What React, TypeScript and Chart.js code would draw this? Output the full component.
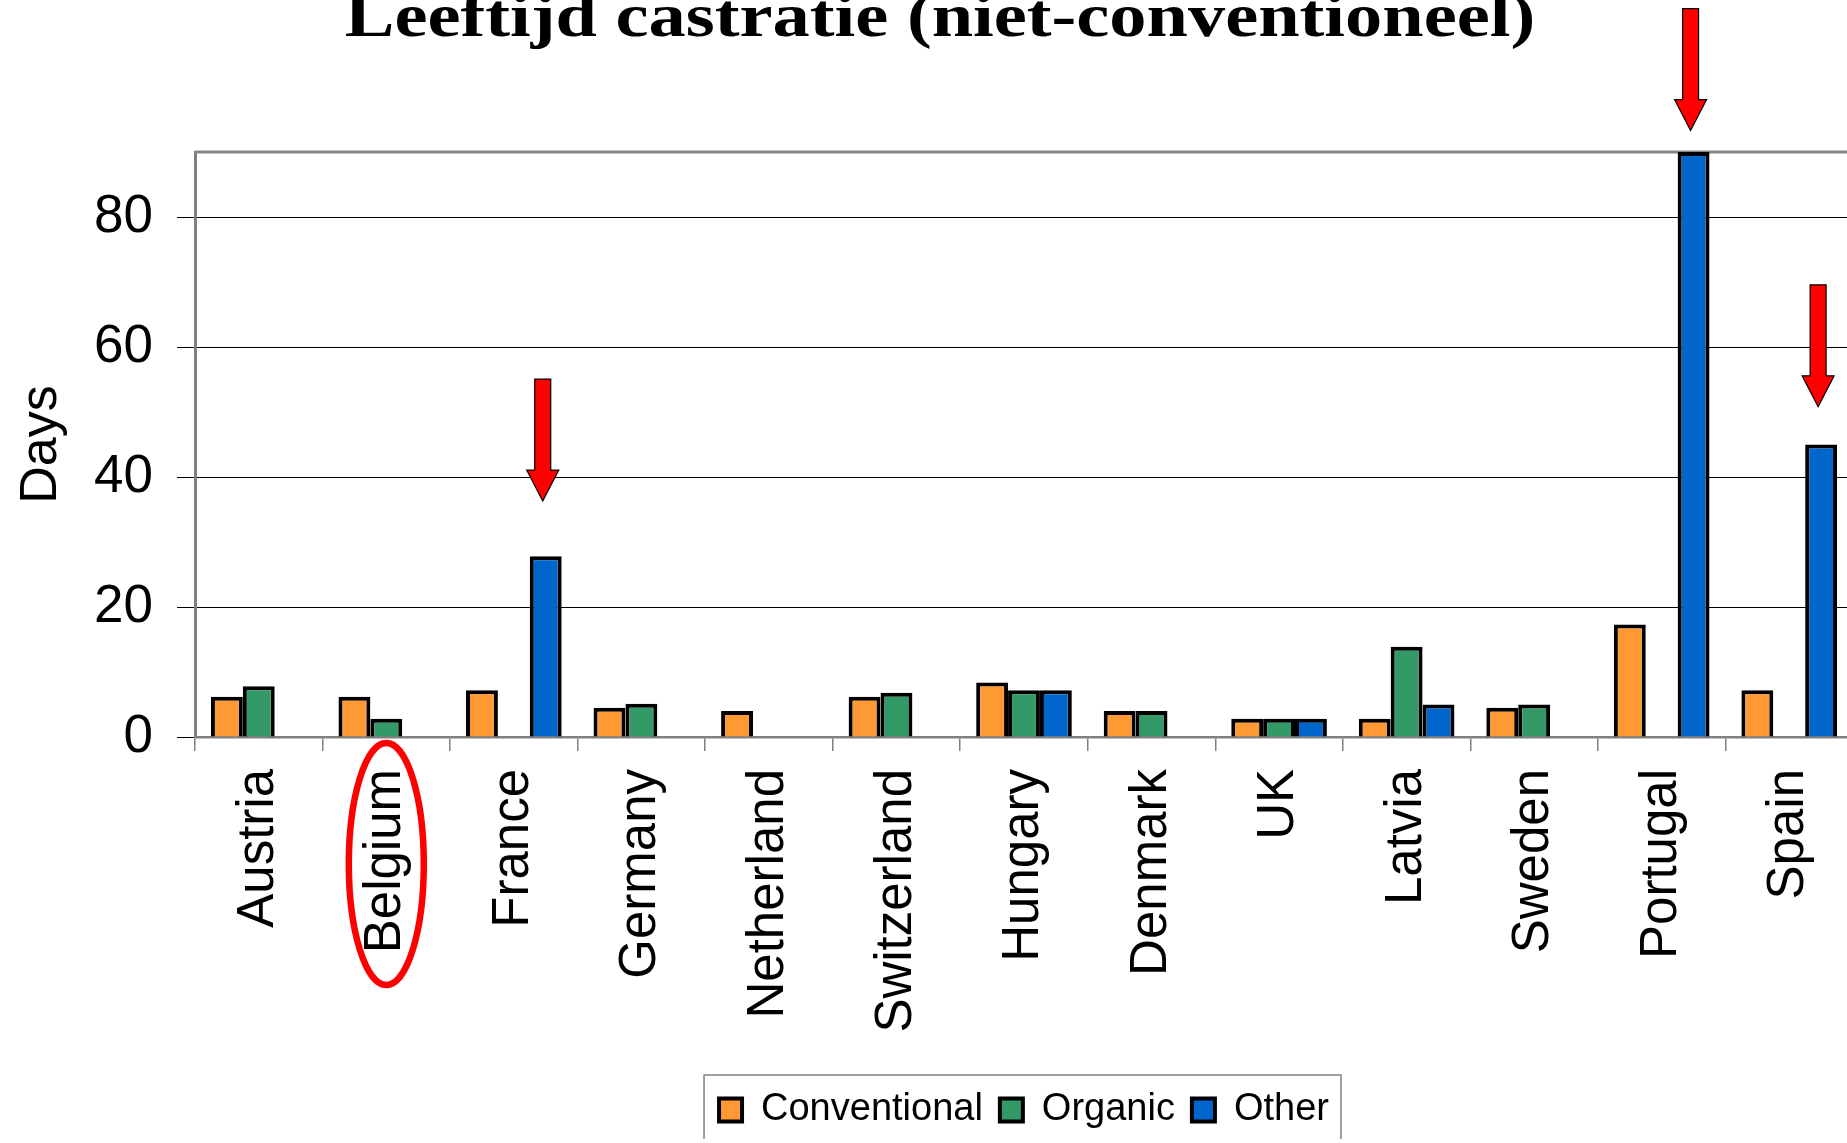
import React, { useEffect, useRef } from 'react';
import { Chart, registerables } from 'chart.js';

Chart.register(...registerables);

// ---------- data ----------
const categories = ['Austria', 'Belgium', 'France', 'Germany', 'Netherland', 'Switzerland', 'Hungary', 'Denmark', 'UK', 'Latvia', 'Sweden', 'Portugal', 'Spain'];
const conventional: (number | null)[] = [6.2, 6.2, 7.2, 4.5, 4.0, 6.2, 8.4, 4.0, 2.8, 2.8, 4.5, 17.3, 7.2];
const organic: (number | null)[] = [7.8, 2.8, null, 5.1, null, 6.8, 7.2, 4.0, 2.8, 13.9, 5.0, null, null];
const other: (number | null)[] = [null, null, 27.8, null, null, null, 7.2, null, 2.8, 5.0, null, 90, 45.0];
const seriesNames = ['Conventional', 'Organic', 'Other'];
const seriesColors = ['#FF9933', '#339966', '#0066CC'];
const yTicks = [0, 20, 40, 60, 80];
const yMin = 0;
const yMax = 90;
const titleText = 'Leeftijd castratie (niet-conventioneel)';
const yAxisTitle = 'Days';
// annotations: red arrows pointing at the "Other" bar of these categories (tip value in days)
const arrowCategories = ['France', 'Portugal', 'Spain'];
const arrowTipValues = [36.3, 93.3, 50.8];
const circledCategory = 'Belgium';

const FONT = '"Liberation Sans", Arial, Helvetica, sans-serif';

const decorations = {
  id: 'decorations',
  beforeDatasetsDraw(chart: any) {
    const { ctx, chartArea } = chart;
    ctx.save();
    ctx.strokeStyle = '#858585';
    ctx.lineWidth = 3;
    ctx.beginPath();
    ctx.moveTo(chartArea.left, chartArea.top);
    ctx.lineTo(chartArea.right, chartArea.top);
    ctx.stroke();
    ctx.restore();
  },
  afterDraw(chart: any) {
    const { ctx, scales } = chart;
    const xs = scales.x;
    const ys = scales.y;

    // title (slightly wide bold serif)
    ctx.save();
    ctx.font = 'bold 61px "Liberation Serif", "Times New Roman", serif';
    ctx.fillStyle = '#000';
    ctx.textAlign = 'center';
    ctx.textBaseline = 'alphabetic';
    ctx.translate(940, 36);
    ctx.scale(1.22, 1);
    ctx.fillText(titleText, 0, 0);
    ctx.restore();

    // arrows
    const meta = chart.getDatasetMeta(2);
    ctx.save();
    arrowCategories.forEach((cat, k) => {
      const i = categories.indexOf(cat);
      const bar = meta.data[i];
      if (!bar) return;
      const cx = bar.x - 3;
      const tipY = ys.getPixelForValue(arrowTipValues[k]);
      const len = 122, headLen = 31, shaftHW = 8, headHW = 16;
      ctx.beginPath();
      ctx.moveTo(cx - shaftHW, tipY - len);
      ctx.lineTo(cx + shaftHW, tipY - len);
      ctx.lineTo(cx + shaftHW, tipY - headLen);
      ctx.lineTo(cx + headHW, tipY - headLen);
      ctx.lineTo(cx, tipY);
      ctx.lineTo(cx - headHW, tipY - headLen);
      ctx.lineTo(cx - shaftHW, tipY - headLen);
      ctx.closePath();
      ctx.fillStyle = '#FF0000';
      ctx.fill();
      ctx.strokeStyle = '#000';
      ctx.lineWidth = 1.2;
      ctx.stroke();
    });
    ctx.restore();

    // red ellipse around a category label
    const bi = categories.indexOf(circledCategory);
    const ex = xs.getPixelForValue(bi);
    ctx.save();
    ctx.beginPath();
    ctx.ellipse(ex, xs.top + 127, 37.5, 121, 0, 0, Math.PI * 2);
    ctx.strokeStyle = '#FF0000';
    ctx.lineWidth = 6.5;
    ctx.stroke();
    ctx.restore();

    // legend frame
    const lg = chart.legend;
    if (lg && lg.legendHitBoxes && lg.legendHitBoxes.length) {
      const hb = lg.legendHitBoxes;
      const first = hb[0];
      const last = hb[hb.length - 1];
      const left = first.left - 15;
      const right = last.left + last.width + 12;
      ctx.save();
      ctx.strokeStyle = '#808080';
      ctx.lineWidth = 1.5;
      ctx.beginPath();
      ctx.moveTo(left, lg.bottom + 40);
      ctx.lineTo(left, lg.top + 1);
      ctx.lineTo(right, lg.top + 1);
      ctx.lineTo(right, lg.bottom + 40);
      ctx.stroke();
      ctx.restore();
    }
  },
};

export default function App() {
  const canvasRef = useRef<HTMLCanvasElement | null>(null);

  useEffect(() => {
    if (!canvasRef.current) return;
    Chart.defaults.font.family = FONT;
    const seriesData = [conventional, organic, other];
    const chart = new Chart(canvasRef.current, {
      type: 'bar',
      data: {
        labels: categories,
        datasets: seriesNames.map((name, k) => ({
          label: name,
          data: seriesData[k],
          backgroundColor: seriesColors[k],
          borderColor: '#000',
          borderWidth: 4,
          categoryPercentage: 0.75,
          barPercentage: 1.0,
        })),
      },
      options: {
        responsive: false,
        maintainAspectRatio: false,
        devicePixelRatio: 1,
        animation: false,
        layout: { padding: { top: 152, left: 0, right: 40, bottom: 0 } },
        plugins: {
          title: { display: false },
          tooltip: { enabled: false },
          legend: {
            display: true,
            position: 'bottom',
            align: 'center',
            fullSize: false,
            labels: {
              color: '#000',
              font: { family: FONT, size: 38 },
              boxWidth: 23,
              boxHeight: 23,
              padding: 17,
            },
          },
        },
        scales: {
          x: {
            offset: true,
            grid: {
              offset: true,
              drawOnChartArea: false,
              drawTicks: true,
              tickLength: 14,
              color: '#808080',
              lineWidth: 1.5,
            },
            border: { display: true, color: '#808080', width: 2.5 },
            ticks: {
              autoSkip: false,
              maxRotation: 90,
              minRotation: 90,
              padding: 18,
              color: '#000',
              font: { family: FONT, size: 51 },
            },
            afterFit: (s: any) => {
              s.height = 337;
            },
          },
          y: {
            min: yMin,
            max: yMax,
            afterBuildTicks: (s: any) => {
              s.ticks = yTicks.map((v) => ({ value: v }));
            },
            ticks: {
              padding: 24,
              color: '#000',
              font: { family: FONT, size: 53 },
            },
            grid: { color: '#000', lineWidth: 1, tickLength: 18, drawTicks: true },
            border: { color: '#808080', width: 3 },
            title: {
              display: true,
              text: yAxisTitle,
              color: '#000',
              font: { family: FONT, size: 52 },
              padding: { top: 10, bottom: 0 },
            },
            afterFit: (s: any) => {
              s.width = 195;
            },
          },
        },
      },
      plugins: [decorations],
    } as any);
    return () => chart.destroy();
  }, []);

  return (
    <div style={{ position: 'fixed', left: 0, top: 0, width: '100vw', height: '100vh', overflow: 'hidden', background: '#fff' }}>
      <canvas
        ref={canvasRef}
        width={1893}
        height={1139}
        style={{ position: 'absolute', left: 0, top: 0, width: '1893px', height: '1139px' }}
      />
    </div>
  );
}
